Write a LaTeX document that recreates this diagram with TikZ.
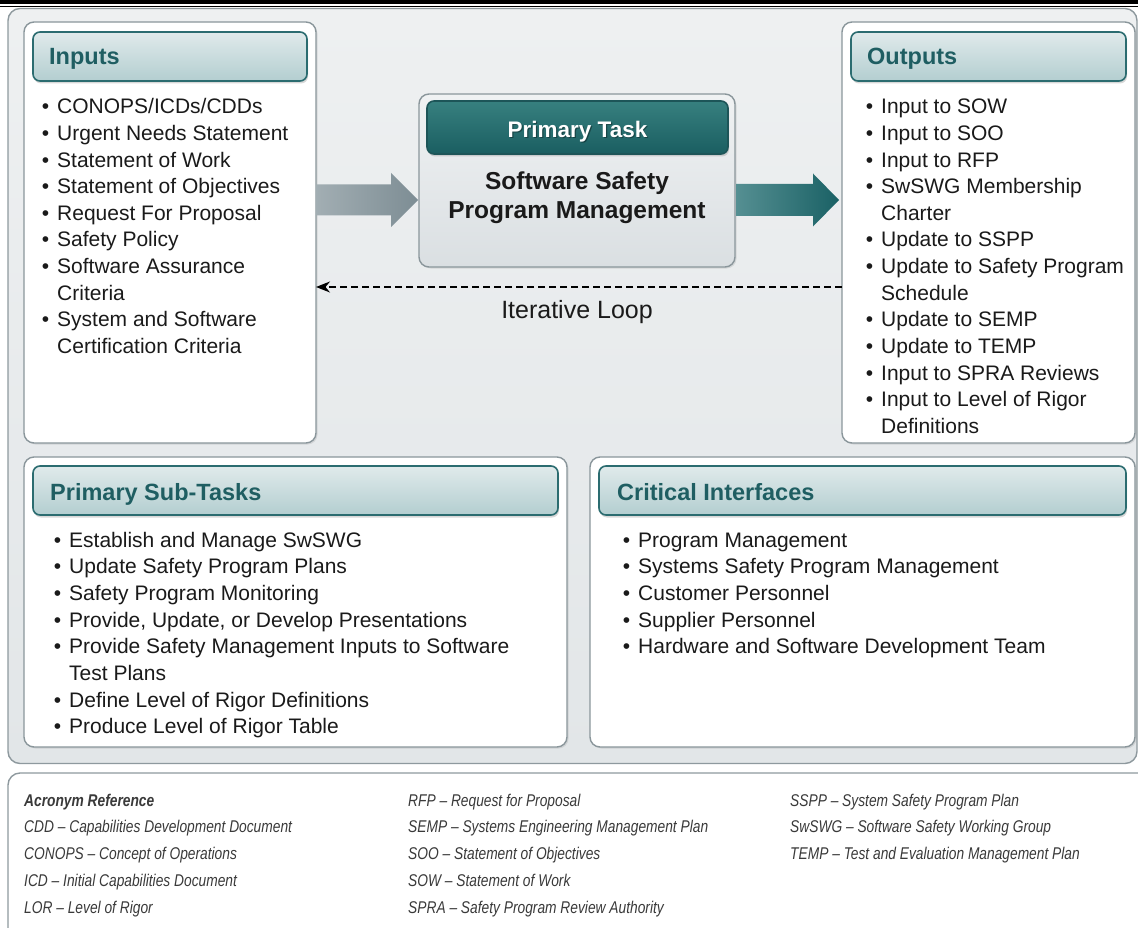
\documentclass[tikz,border=0pt]{standalone}
\usepackage{fontspec}
\setmainfont{Liberation Sans}
\newfontfamily\acrfont[FakeStretch=0.81]{Liberation Sans}
\usetikzlibrary{shadows,arrows.meta}
\definecolor{panelline}{HTML}{8E999E}
\definecolor{panelT}{HTML}{EEF0F1}
\definecolor{panelB}{HTML}{E2E6E8}
\definecolor{boxline}{HTML}{8A969B}
\definecolor{hdrline}{HTML}{2B6C70}
\definecolor{hdrT}{HTML}{E0EAEB}
\definecolor{hdrB}{HTML}{B3CED0}
\definecolor{hdrtext}{HTML}{1F5E62}
\definecolor{ptT}{HTML}{37807F}
\definecolor{ptB}{HTML}{1A5E61}
\definecolor{ptline}{HTML}{1D5558}
\definecolor{taskT}{HTML}{F0F2F3}
\definecolor{taskB}{HTML}{DADFE2}
\definecolor{garL}{HTML}{A2AEB3}
\definecolor{garR}{HTML}{7D8D94}
\definecolor{tarL}{HTML}{558F92}
\definecolor{tarR}{HTML}{1A6165}
\definecolor{txtcol}{HTML}{1A1A1A}
\definecolor{acrcol}{HTML}{3A3A3A}
\newcommand\mybul{\llap{\textbullet\hspace{8pt}}}
\begin{document}
\begin{tikzpicture}[x=1pt,y=-1pt,
  panel/.style={draw=panelline, line width=1.4pt, rounded corners=12pt, top color=panelT, bottom color=panelB, inner sep=0pt, outer sep=0pt, anchor=north west},
  acrpanel/.style={draw=panelline, line width=1.4pt, rounded corners=12pt, fill=white, inner sep=0pt, outer sep=0pt, anchor=north west},
  wbox/.style={draw=boxline, line width=1.4pt, rounded corners=10pt, fill=white, inner sep=0pt, outer sep=0pt, anchor=north west, drop shadow={shadow xshift=1.5pt, shadow yshift=-1.5pt, opacity=0.2}},
  hdr/.style={draw=hdrline, line width=1.6pt, rounded corners=7pt, top color=hdrT, bottom color=hdrB, inner sep=0pt, outer sep=0pt, anchor=north west, drop shadow={shadow xshift=1pt, shadow yshift=-2.5pt, opacity=0.3}},
  hdrtxt/.style={anchor=base west, inner sep=0pt, font=\fontsize{23.5}{28}\selectfont\bfseries, text=hdrtext},
  item/.style={anchor=base west, inner sep=0pt, font=\fontsize{21}{25}\selectfont, text=txtcol},
  acr/.style={anchor=base west, inner sep=0pt, font=\acrfont\itshape\fontsize{17}{20}\selectfont, text=acrcol},
]
\useasboundingbox (0,0) rectangle (1138,928);
% top rules
\draw[line width=4pt] (0,2) -- (1138,2);
\draw[line width=1pt] (0,6.3) -- (1138,6.3);
% panels
\node[panel, minimum width=1129pt, minimum height=755pt] (main) at (8,8.5) {};
\node[acrpanel, minimum width=1160pt, minimum height=190pt] (acro) at (8,773) {};
% boxes
\node[wbox, minimum width=292pt, minimum height=421pt] (inputs) at (24,22) {};
\node[wbox, minimum width=293pt, minimum height=421pt] (outputs) at (842,22) {};
\node[wbox, minimum width=543pt, minimum height=290pt] (subtasks) at (24,457) {};
\node[wbox, minimum width=545pt, minimum height=290pt] (crit) at (590,457) {};
% headers
\node[hdr, minimum width=274pt, minimum height=49pt] (inputsH) at (33,32) {};
\node[hdr, minimum width=275pt, minimum height=49pt] (outputsH) at (851,32) {};
\node[hdr, minimum width=525pt, minimum height=49pt] (subtasksH) at (33,466) {};
\node[hdr, minimum width=527pt, minimum height=49pt] (critH) at (599,466) {};
\node[hdrtxt] (inputsT) at (49,65) {Inputs};
\node[hdrtxt] (outputsT) at (867,65) {Outputs};
\node[hdrtxt] (subtasksT) at (50,500) {Primary Sub-Tasks};
\node[hdrtxt] (critT) at (617,500) {Critical Interfaces};
% primary task
\node[wbox, top color=taskT, bottom color=taskB, minimum width=316pt, minimum height=173pt] (task) at (419,94) {};
\node[hdr, draw=ptline, top color=ptT, bottom color=ptB, minimum width=301pt, minimum height=53pt] (taskH) at (427,101) {};
\node[anchor=base, inner sep=0pt, font=\fontsize{22.5}{26}\selectfont\bfseries, text=black, opacity=0.35] (taskHS) at (578.6,139) {Primary Task};
\node[anchor=base, inner sep=0pt, font=\fontsize{22.5}{26}\selectfont\bfseries, text=white] (taskHT) at (577.5,138) {Primary Task};
\node[anchor=base, inner sep=0pt, font=\fontsize{24.5}{29}\selectfont\bfseries, text=txtcol] (title1) at (577,190) {Software Safety};
\node[anchor=base, inner sep=0pt, font=\fontsize{24.5}{29}\selectfont\bfseries, text=txtcol] (title2) at (577,219) {Program Management};
% block arrows
\coordinate (gA) at (316,200);
\coordinate (gB) at (418,200);
\shade[left color=garL, right color=garR]
  ([yshift=15.5pt]gA) -- ([xshift=-27pt,yshift=15.5pt]gB) -- ([xshift=-27pt,yshift=27pt]gB) -- (gB)
  -- ([xshift=-27pt,yshift=-27pt]gB) -- ([xshift=-27pt,yshift=-15.5pt]gB) -- ([yshift=-15.5pt]gA) -- cycle;
\coordinate (tA) at (736,200);
\coordinate (tB) at (839,200);
\shade[left color=tarL, right color=tarR]
  ([yshift=16pt]tA) -- ([xshift=-26pt,yshift=16pt]tB) -- ([xshift=-26pt,yshift=26.5pt]tB) -- (tB)
  -- ([xshift=-26pt,yshift=-26.5pt]tB) -- ([xshift=-26pt,yshift=-16pt]tB) -- ([yshift=-16pt]tA) -- cycle;
% iterative loop
\coordinate (loop) at (578,287);
\draw[line width=1.6pt, dash pattern=on 7pt off 4pt, -{Stealth[length=14pt,width=11pt]}] (outputs.west |- loop) -- (inputs.east |- loop);
\node[anchor=base, inner sep=0pt, font=\fontsize{25}{30}\selectfont, text=txtcol] (looplbl) at (577,318) {Iterative Loop};
% lists
\foreach \t [count=\i] in {{\mybul CONOPS/ICDs/CDDs},{\mybul Urgent Needs Statement},{\mybul Statement of Work},{\mybul Statement of Objectives},{\mybul Request For Proposal},{\mybul Safety Policy},{\mybul Software Assurance},{Criteria},{\mybul System and Software},{Certification Criteria}}
  \node[item] (in\i) at (57,{114+(\i-1)*26.6}) {\t};
\foreach \t [count=\i] in {{\mybul Input to SOW},{\mybul Input to SOO},{\mybul Input to RFP},{\mybul SwSWG Membership},{Charter},{\mybul Update to SSPP},{\mybul Update to Safety Program},{Schedule},{\mybul Update to SEMP},{\mybul Update to TEMP},{\mybul Input to SPRA Reviews},{\mybul Input to Level of Rigor},{Definitions}}
  \node[item] (out\i) at (881,{114+(\i-1)*26.6}) {\t};
\foreach \t [count=\i] in {{\mybul Establish and Manage SwSWG},{\mybul Update Safety Program Plans},{\mybul Safety Program Monitoring},{\mybul Provide, Update, or Develop Presentations},{\mybul Provide Safety Management Inputs to Software},{Test Plans},{\mybul Define Level of Rigor Definitions},{\mybul Produce Level of Rigor Table}}
  \node[item] (sub\i) at (69,{547+(\i-1)*26.7}) {\t};
\foreach \t [count=\i] in {{\mybul Program Management},{\mybul Systems Safety Program Management},{\mybul Customer Personnel},{\mybul Supplier Personnel},{\mybul Hardware and Software Development Team}}
  \node[item] (ci\i) at (638,{547+(\i-1)*26.7}) {\t};
% acronyms
\foreach \t [count=\i] in {{\bfseries Acronym Reference},{CDD \textendash\ Capabilities Development Document},{CONOPS \textendash\ Concept of Operations},{ICD \textendash\ Initial Capabilities Document},{LOR \textendash\ Level of Rigor}}
  \node[acr] (acA\i) at (24,{806+(\i-1)*26.75}) {\t};
\foreach \t [count=\i] in {{RFP \textendash\ Request for Proposal},{SEMP \textendash\ Systems Engineering Management Plan},{SOO \textendash\ Statement of Objectives},{SOW \textendash\ Statement of Work},{SPRA \textendash\ Safety Program Review Authority}}
  \node[acr] (acB\i) at (408,{806+(\i-1)*26.75}) {\t};
\foreach \t [count=\i] in {{SSPP \textendash\ System Safety Program Plan},{SwSWG \textendash\ Software Safety Working Group},{TEMP \textendash\ Test and Evaluation Management Plan}}
  \node[acr] (acC\i) at (790,{806+(\i-1)*26.75}) {\t};
\end{tikzpicture}
\end{document}
